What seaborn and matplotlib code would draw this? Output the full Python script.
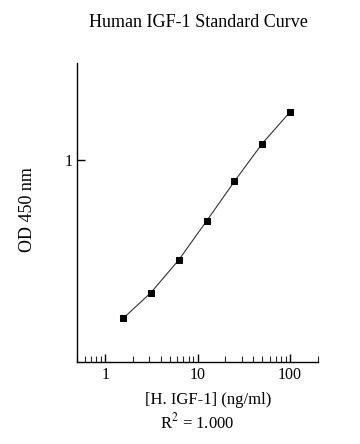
import numpy as np
import pandas as pd
import matplotlib
matplotlib.use("Agg")
import matplotlib.pyplot as plt
import seaborn as sns
from matplotlib.ticker import LogLocator, FixedLocator, NullFormatter

# standard curve data
conc = [1.5625, 3.125, 6.25, 12.5, 25, 50, 100]
od = [0.164, 0.220, 0.319, 0.497, 0.780, 1.20, 1.72]

df = pd.DataFrame({"conc": conc, "od": od})

sns.set_style("ticks")
plt.rcParams["font.family"] = ["Liberation Serif", "DejaVu Serif"]
plt.rcParams["mathtext.fontset"] = "stix"
plt.rcParams["text.color"] = "black"

fig = plt.figure(figsize=(3.6, 4.44), dpi=100)
ax = fig.add_axes([0.215, 0.185, 0.668, 0.673])

sns.lineplot(data=df, x="conc", y="od", ax=ax, color="#333333", linewidth=0.8,
             marker="s", markersize=4, markerfacecolor="black",
             markeredgecolor="black")

ax.set_xscale("log")
ax.set_yscale("log")
ax.set_xlim(0.5, 200)
ax.set_ylim(0.1, 3)

ax.xaxis.set_major_locator(FixedLocator([1, 10, 100]))
ax.xaxis.set_minor_locator(LogLocator(base=10, subs=np.arange(2, 10), numticks=20))
ax.xaxis.set_minor_formatter(NullFormatter())
ax.set_xticklabels(["1", "10", "100"])
ax.yaxis.set_major_locator(FixedLocator([1]))
ax.yaxis.set_minor_locator(FixedLocator([]))
ax.set_yticklabels(["1"])

ax.tick_params(axis="both", which="major", direction="in", length=6, width=1,
               labelsize=11.5, colors="black")
ax.tick_params(axis="x", which="minor", direction="in", length=4, width=0.8)

for s in ["top", "right"]:
    ax.spines[s].set_visible(False)
for s in ["left", "bottom"]:
    ax.spines[s].set_color("black")
    ax.spines[s].set_linewidth(1)

ax.set_xlabel("")
ax.set_ylabel("")
fig.text(0.075, 0.529, "OD 450 nm", fontsize=13, ha="center", va="center", rotation=90)
fig.text(0.55, 0.95, "Human IGF-1 Standard Curve", fontsize=13, ha="center", va="center")
fig.text(0.578, 0.099, "[H. IGF-1] (ng/ml)", fontsize=12, ha="center", va="center")
fig.text(0.547, 0.049, r"R$^{\mathrm{2}}$ = 1.000", fontsize=12, ha="center", va="center")

fig.savefig("out.png", dpi=100, facecolor="white")
